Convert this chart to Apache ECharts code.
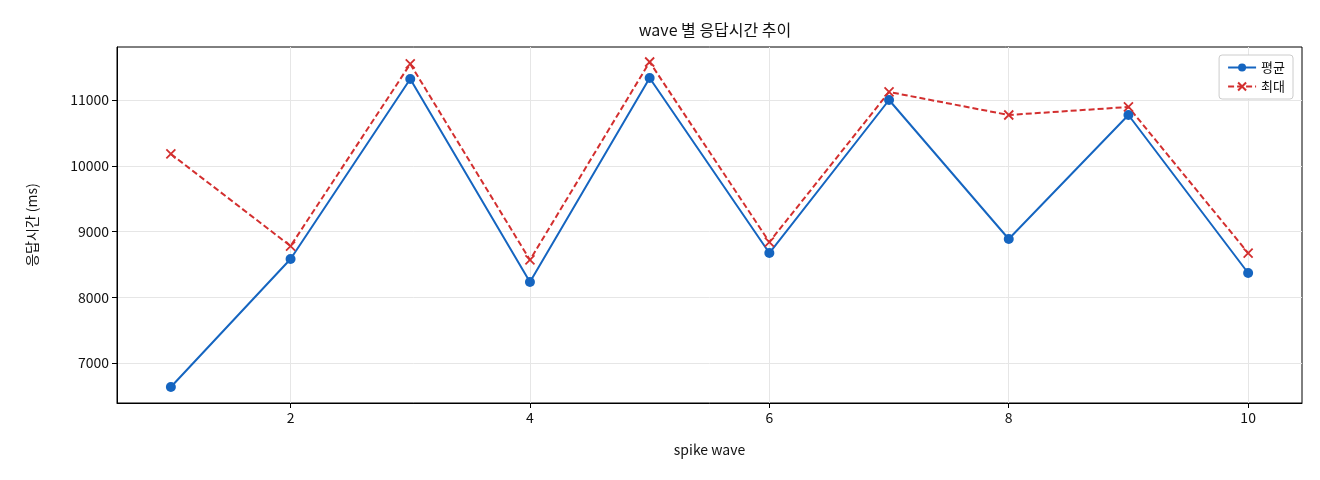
<!DOCTYPE html>
<html><head><meta charset="utf-8">
<script src="https://cdn.jsdelivr.net/npm/echarts@6/dist/echarts.min.js"></script>
<style>html,body{margin:0;padding:0;background:#fff}#c{width:1320px;height:480px}</style>
</head><body><div id="c"></div>
<script>
const waves = [1,2,3,4,5,6,7,8,9,10];
const avgValues = [6635,8582,11319,8232,11335,8673,11000,8886,10772,8369];
const maxValues = [10179,8779,11548,8567,11578,8840,11122,10772,10894,8673];
const xTicks = [2,4,6,8,10];
const yTicks = [7000,8000,9000,10000,11000];
const font = '"Noto Sans CJK KR", "DejaVu Sans", sans-serif';
const chart = echarts.init(document.getElementById('c'));
chart.setOption({
  animation:false,
  textStyle:{fontFamily:font},
  title:{text:'wave 별 응답시간 추이',left:710,textAlign:'center',top:17,textStyle:{fontSize:16,fontWeight:'normal',color:'#111',fontFamily:font}},
  grid:{left:117,right:18,top:47,bottom:77,show:true,borderColor:'#000',borderWidth:1,backgroundColor:'transparent'},
  legend:{top:55,right:27,orient:'vertical',itemGap:6,backgroundColor:'#fff',borderColor:'#ccc',borderWidth:1,borderRadius:3,padding:[6,8],itemWidth:28,itemHeight:10,textStyle:{fontSize:13,color:'#111'},
    data:['평균','최대']},
  xAxis:{type:'value',min:0.55,max:10.45,name:'spike wave',nameLocation:'middle',nameGap:40,nameTextStyle:{fontSize:14,color:'#111'},
    axisLine:{onZero:false,lineStyle:{color:'#000'}},axisTick:{customValues:xTicks,lineStyle:{color:'#000'}},
    axisLabel:{customValues:xTicks,fontSize:14,color:'#111'},splitLine:{show:true,lineStyle:{color:'#e6e6e6'}}},
  yAxis:{type:'value',min:6392,max:11806,name:'응답시간 (ms)',nameLocation:'middle',nameGap:78,nameTextStyle:{fontSize:14,color:'#111'},
    axisLine:{show:true,lineStyle:{color:'#000'}},axisTick:{show:true,customValues:yTicks,lineStyle:{color:'#000'}},
    axisLabel:{customValues:yTicks,fontSize:14,color:'#111',formatter:v=>String(v)},splitLine:{show:true,lineStyle:{color:'#e6e6e6'}}},
  series:[
    {name:'평균',type:'line',data:waves.map((w,i)=>[w,avgValues[i]]),symbol:'circle',symbolSize:10,
     lineStyle:{color:'#1565c0',width:2},itemStyle:{color:'#1565c0'}},
    {name:'최대',type:'line',data:waves.map((w,i)=>[w,maxValues[i]]),symbol:'path://M0,0L10,10M10,0L0,10',symbolSize:9,
     lineStyle:{color:'#d32f2f',width:2,type:[6,3]},itemStyle:{color:'none',borderColor:'#d32f2f',borderWidth:1.8}}
  ]
});
</script></body></html>
